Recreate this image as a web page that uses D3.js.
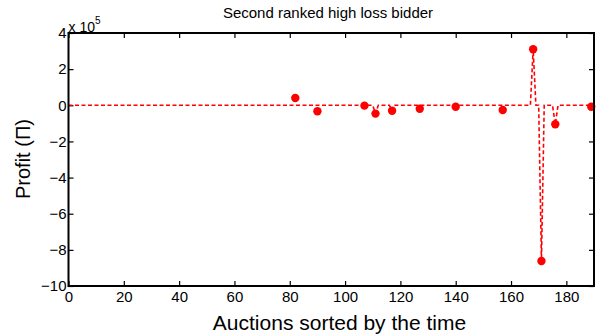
<!DOCTYPE html>
<html>
<head>
<meta charset="utf-8">
<script src="https://cdn.jsdelivr.net/npm/d3@7/dist/d3.min.js"></script>
<style>
  html, body { margin: 0; padding: 0; background: #fff; }
  svg { display: block; font-family: "Liberation Sans", Arial, Helvetica, sans-serif; }
</style>
</head>
<body>
<svg id="chart" width="606" height="336"></svg>
<script>
// Auctions where the bidder appears, with the profit recorded for each
const markerAuction = [82, 90, 107, 111, 117, 127, 140, 157, 168, 171, 176, 189];
const markerProfit  = [40000, -33000, -2000, -46000, -30000, -19000, -8000, -26000, 310000, -862000, -105000, -8000];

// Profit trace over the sorted auctions (zero between the listed auctions)
const lineAuction = [0, 110, 111, 112, 116, 117, 118, 167, 168, 169, 170, 171, 172, 175, 176, 177, 190];
const lineProfit  = [0, 0, -46000, 0, 0, -30000, 0, 0, 310000, 0, 0, -862000, 0, 0, -105000, 0, 0];

const xTicks = [0, 20, 40, 60, 80, 100, 120, 140, 160, 180];
const yTicks = [-1000000, -800000, -600000, -400000, -200000, 0, 200000, 400000];

const titleText = "Second ranked high loss bidder";
const xLabel = "Auctions sorted by the time";
const yLabel = "Profit (\u03A0)";

const svg = d3.select("#chart");
const plotL = 68.5, plotR = 594, plotT = 33, plotB = 286;

const x = d3.scaleLinear().domain([0, 190]).range([plotL, plotR]);
const y = d3.scaleLinear().domain([-1000000, 400000]).range([plotB, plotT]);

const tickFont = "15px";
const fmtY = d => (d / 1e5).toString().replace("-", "\u2212");

// Axes with inward ticks on all four sides
const xAxisB = d3.axisBottom(x).tickValues(xTicks).tickSizeInner(-5).tickSizeOuter(0).tickPadding(5);
const xAxisT = d3.axisTop(x).tickValues(xTicks).tickSizeInner(-5).tickSizeOuter(0).tickFormat("");
const yAxisL = d3.axisLeft(y).tickValues(yTicks).tickSizeInner(-5).tickSizeOuter(0).tickPadding(2).tickFormat(fmtY);
const yAxisR = d3.axisRight(y).tickValues(yTicks).tickSizeInner(-5).tickSizeOuter(0).tickFormat("");

function styleAxis(g) {
  g.select(".domain").remove();
  g.selectAll(".tick line").attr("stroke", "#000").attr("stroke-width", 1.2);
  g.selectAll(".tick text").attr("fill", "#000").style("font-size", tickFont)
    .style("font-family", "'Liberation Sans', Arial, sans-serif");
}

svg.append("g").attr("transform", `translate(0,${plotB})`).call(xAxisB).call(styleAxis)
  .selectAll(".tick text").attr("dy", "0.71em");
svg.append("g").attr("transform", `translate(0,${plotT})`).call(xAxisT).call(styleAxis);
svg.append("g").attr("transform", `translate(${plotL},0)`).call(yAxisL).call(styleAxis);
svg.append("g").attr("transform", `translate(${plotR},0)`).call(yAxisR).call(styleAxis);

// Profit trace
const line = d3.line().x((d, i) => x(lineAuction[i])).y(d => y(d));
svg.append("path")
  .datum(lineProfit)
  .attr("d", line)
  .attr("fill", "none")
  .attr("stroke", "#ff0000")
  .attr("stroke-width", 1.6)
  .attr("stroke-dasharray", "4,2.5");

// Markers
svg.append("g").selectAll("circle")
  .data(markerProfit)
  .join("circle")
  .attr("cx", (d, i) => x(markerAuction[i]))
  .attr("cy", d => y(d))
  .attr("r", 4.2)
  .attr("fill", "#ff0000");

// Axes box
svg.append("rect")
  .attr("x", plotL).attr("y", plotT)
  .attr("width", plotR - plotL).attr("height", plotB - plotT)
  .attr("fill", "none").attr("stroke", "#000").attr("stroke-width", 2);

// Exponent label
const expo = svg.append("text").attr("x", plotL).attr("y", 31.5)
  .style("font-size", "14px").attr("fill", "#000");
expo.append("tspan").text("x 10");
expo.append("tspan").attr("dy", -8).style("font-size", "10px").text("5");

// Title
svg.append("text").attr("x", 328).attr("y", 18)
  .attr("text-anchor", "middle").style("font-size", "15px").attr("fill", "#000")
  .text(titleText);

// Axis labels
svg.append("text").attr("x", 339.5).attr("y", 330)
  .attr("text-anchor", "middle").style("font-size", "21px").attr("fill", "#000")
  .text(xLabel);

svg.append("text")
  .attr("transform", `translate(29.5,159) rotate(-90)`)
  .attr("text-anchor", "middle").style("font-size", "20px").attr("fill", "#000")
  .text(yLabel);
</script>
</body>
</html>
